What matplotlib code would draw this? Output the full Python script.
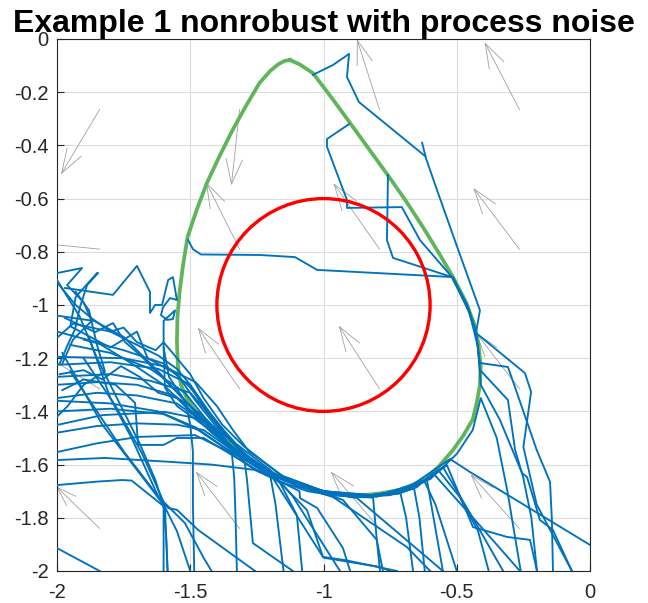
import numpy as np
import matplotlib
matplotlib.use("Agg")
import matplotlib.pyplot as plt
from matplotlib.patches import Circle

plt.rcParams['font.family'] = ['Liberation Sans', 'DejaVu Sans']
plt.rcParams['axes.unicode_minus'] = False

# quiver field (tails and vectors as drawn)
q_x = [-1.84, -1.315, -0.79, -0.265] * 4
q_y = [-0.265] * 4 + [-0.79] * 4 + [-1.315] * 4 + [-1.84] * 4
q_u = [-0.143, -0.03, -0.083, -0.128,
       -0.25, -0.124, -0.17, -0.17,
       -0.22, -0.154, -0.15, -0.16,
       -0.16, -0.161, -0.18, -0.18]
q_v = [-0.24, -0.28, 0.26, 0.248,
       0.025, 0.248, 0.244, 0.226,
       0.135, 0.226, 0.233, 0.207,
       0.155, 0.21, 0.21, 0.2]

# boundary (green) curve
bnd_x = [-1.126, -1.09, -1.04, -0.97, -0.90, -0.83, -0.76, -0.69, -0.627, -0.57, -0.514, -0.465,
         -0.435, -0.418, -0.41, -0.413, -0.425, -0.44, -0.475, -0.514, -0.57, -0.627, -0.713,
         -0.78, -0.837, -0.90, -0.96, -1.06, -1.163, -1.24, -1.313, -1.415, -1.47, -1.51,
         -1.535, -1.546, -1.55, -1.548, -1.54, -1.527, -1.51, -1.475, -1.437, -1.39, -1.34,
         -1.29, -1.24, -1.20, -1.17, -1.145, -1.126]
bnd_y = [-0.079, -0.095, -0.128, -0.22, -0.316, -0.413, -0.51, -0.61, -0.707, -0.80, -0.895, -0.99,
         -1.07, -1.15, -1.23, -1.30, -1.368, -1.43, -1.49, -1.545, -1.61, -1.66, -1.695,
         -1.707, -1.714, -1.716, -1.711, -1.688, -1.647, -1.605, -1.556, -1.47, -1.415, -1.357,
         -1.30, -1.233, -1.14, -1.045, -0.95, -0.85, -0.744, -0.64, -0.54, -0.44, -0.34,
         -0.25, -0.165, -0.12, -0.095, -0.082, -0.079]

# nominal circle
circ_center = (-1.0, -1.0)
circ_radius = 0.4

# simulated trajectories
t01 = [(-1.04, -0.135), (-0.965, -0.098), (-0.904, -0.056), (-0.912, -0.143), (-0.867, -0.237),
       (-0.619, -0.44)]
t02 = [(-0.63, -0.39), (-0.615, -0.45), (-0.574, -0.568), (-0.499, -0.78), (-0.413, -1.02),
       (-0.428, -1.105), (-0.244, -1.256), (-0.221, -1.327), (-0.25, -1.534), (-0.20, -1.75),
       (-0.068, -2.0)]
t03 = [(-0.904, -0.32), (-0.987, -0.376), (-0.987, -0.405), (-0.912, -0.605), (-0.912, -0.635),
       (-0.706, -0.632), (-0.638, -0.756), (-0.518, -0.895), (-0.46, -1.0), (-0.43, -1.09),
       (-0.413, -1.218), (-0.308, -1.233), (-0.25, -1.40), (-0.2, -1.545), (-0.15, -1.665),
       (-0.143, -1.808), (-0.139, -2.0)]
t04 = [(-0.758, -0.511), (-0.762, -0.756), (-0.739, -0.823), (-0.518, -0.895), (-0.452, -1.03),
       (-0.42, -1.16), (-0.41, -1.30), (-0.338, -1.432), (-0.255, -1.632), (-0.236, -1.647),
       (-0.188, -1.808), (-0.139, -1.846), (-0.068, -2.0)]
t05 = [(-1.508, -0.756), (-1.49, -0.79), (-1.46, -0.81), (-1.238, -0.812), (-1.107, -0.82),
       (-1.024, -0.868), (-0.514, -0.895), (-0.455, -1.02), (-0.425, -1.12), (-0.413, -1.244),
       (-0.308, -1.357), (-0.281, -1.545), (-0.251, -1.647), (-0.22, -1.8), (-0.199, -2.0)]
L01 = [(-2, -1.677), (-1.85, -1.664), (-1.756, -1.658), (-1.72, -1.66), (-1.595, -1.76),
       (-1.59, -1.88), (-1.585, -2.0)]
L02 = [(-2, -1.583), (-1.82, -1.575), (-1.57, -1.59), (-1.42, -1.60), (-1.257, -1.62),
       (-1.16, -1.665), (-1.09, -1.70), (-1.088, -1.726), (-1.024, -1.763), (-0.927, -1.914),
       (-0.9, -2.0)]
L03 = [(-2, -1.553), (-1.85, -1.52), (-1.696, -1.496), (-1.482, -1.489), (-1.36, -1.55),
       (-1.257, -1.62), (-1.16, -1.665), (-1.06, -1.70), (-0.96, -1.716), (-0.86, -1.722),
       (-0.814, -1.724), (-0.80, -1.883), (-0.788, -2.0)]
L04 = [(-2, -1.451), (-1.83, -1.414), (-1.595, -1.402), (-1.445, -1.432), (-1.36, -1.50),
       (-1.30, -1.56), (-1.20, -1.63), (-1.088, -1.744), (-1.062, -1.771), (-1.002, -1.947),
       (-0.919, -1.959), (-0.724, -2.0)]
L05 = [(-2, -1.35), (-1.85, -1.33), (-1.7, -1.34), (-1.55, -1.37), (-1.45, -1.44), (-1.38, -1.50),
       (-1.30, -1.57), (-1.2, -1.63), (-1.1, -1.68), (-1.0, -1.706), (-0.9, -1.72), (-0.8, -1.72),
       (-0.713, -1.70), (-0.69, -1.80), (-0.664, -2.0)]
L06 = [(-2, -1.27), (-1.8, -1.26), (-1.65, -1.285), (-1.5, -1.33), (-1.42, -1.42), (-1.35, -1.51),
       (-1.25, -1.60), (-1.15, -1.66), (-1.0, -1.706), (-0.85, -1.721), (-0.72, -1.71),
       (-0.65, -1.685), (-0.589, -1.632), (-0.43, -1.81), (-0.263, -2.0)]
L07 = [(-2, -1.225), (-1.8, -1.215), (-1.62, -1.24), (-1.5, -1.30), (-1.43, -1.40), (-1.36, -1.49),
       (-1.3, -1.56), (-1.2, -1.63), (-1.05, -1.69), (-0.9, -1.718), (-0.75, -1.715),
       (-0.62, -1.66), (-0.552, -1.609), (-0.44, -1.80), (-0.326, -2.0)]
L08 = [(-2, -1.195), (-1.75, -1.20), (-1.6, -1.23), (-1.48, -1.29), (-1.40, -1.38), (-1.34, -1.47),
       (-1.28, -1.55), (-1.15, -1.645), (-1.0, -1.70), (-0.85, -1.718), (-0.7, -1.70),
       (-0.6, -1.65), (-0.537, -1.602), (-0.439, -1.835), (-0.311, -1.872), (-0.225, -1.883),
       (-0.199, -2.0)]
L09 = [(-2, -1.04), (-1.86, -1.06), (-1.75, -1.12), (-1.62, -1.25), (-1.52, -1.36), (-1.44, -1.44),
       (-1.36, -1.52), (-1.25, -1.605), (-1.1, -1.675), (-0.95, -1.712), (-0.8, -1.715),
       (-0.68, -1.685), (-0.525, -1.579), (-0.45, -1.628), (0.0, -1.902)]
L10 = [(-2, -1.48), (-1.85, -1.455), (-1.7, -1.445), (-1.55, -1.45), (-1.45, -1.47), (-1.35, -1.54),
       (-1.25, -1.61), (-1.163, -1.669), (-1.10, -1.79), (-1.08, -2.0)]
L11 = [(-2, -1.30), (-1.85, -1.29), (-1.7, -1.30), (-1.56, -1.34), (-1.46, -1.41), (-1.38, -1.49),
       (-1.295, -1.594), (-1.287, -1.658), (-1.265, -1.895), (-1.115, -2.0)]
L12 = [(-1.9, -1.13), (-1.75, -1.17), (-1.6, -1.22), (-1.5, -1.31), (-1.42, -1.42), (-1.33, -1.52),
       (-1.2, -1.62), (-1.115, -1.72), (-0.938, -2.0)]
L13 = [(-2, -1.36), (-1.8, -1.37), (-1.62, -1.40), (-1.48, -1.46), (-1.38, -1.53), (-1.25, -1.61),
       (-1.1, -1.68), (-0.964, -1.722), (-0.687, -1.91), (-0.6, -2.0)]
L14 = [(-2, -1.40), (-1.8, -1.39), (-1.6, -1.41), (-1.47, -1.47), (-1.36, -1.545), (-1.22, -1.625),
       (-1.05, -1.695), (-0.874, -1.726), (-0.552, -2.0)]
L15 = [(-1.95, -1.15), (-1.8, -1.18), (-1.65, -1.24), (-1.52, -1.33), (-1.44, -1.43), (-1.36, -1.52),
       (-1.24, -1.61), (-1.1, -1.67), (-0.927, -1.733), (-0.8, -1.883), (-0.777, -2.0)]
L16 = [(-2, -1.10), (-1.85, -1.14), (-1.72, -1.22), (-1.6, -1.30), (-1.5, -1.40), (-1.42, -1.48),
       (-1.32, -1.56), (-1.2, -1.635), (-1.0, -1.95), (-0.788, -1.985), (-0.75, -2.0)]
D01 = [(-1.95, -1.25), (-1.85, -1.40), (-1.75, -1.55), (-1.65, -1.68), (-1.595, -1.76),
       (-1.55, -1.85), (-1.50, -2.0)]
D02 = [(-1.98, -1.18), (-1.83, -1.45), (-1.70, -1.62), (-1.60, -1.75), (-1.59, -1.88),
       (-1.585, -2.0)]
D03 = [(-1.90, -1.20), (-1.78, -1.38), (-1.68, -1.56), (-1.60, -1.74), (-1.52, -1.82),
       (-1.45, -1.95), (-1.42, -2.0)]
D04 = [(-1.88, -1.12), (-1.80, -1.35), (-1.72, -1.50), (-1.62, -1.72), (-1.583, -1.763),
       (-1.55, -1.77), (-1.47, -1.846), (-1.257, -2.0)]
D05 = [(-2, -0.906), (-1.914, -1.045), (-1.85, -1.20), (-1.76, -1.38), (-1.69, -1.52),
       (-1.63, -1.66), (-1.60, -1.76), (-1.60, -2.0)]
B01 = [(-2, -1.914), (-1.84, -2.0)]
Z01 = [(-2, -0.88), (-1.906, -0.861), (-1.962, -0.925), (-1.90, -0.99), (-1.87, -1.06),
       (-1.94, -1.13), (-1.98, -1.22)]
Z02 = [(-1.97, -0.936), (-1.79, -0.962), (-1.70, -0.853), (-1.651, -0.951), (-1.651, -1.03),
       (-1.632, -1.0), (-1.606, -1.0), (-1.583, -0.906), (-1.565, -0.895), (-1.55, -0.981),
       (-1.576, -0.974), (-1.602, -1.008), (-1.61, -1.038), (-1.587, -1.056), (-1.565, -1.053),
       (-1.557, -1.02), (-1.60, -1.06), (-1.60, -1.16), (-1.58, -1.27), (-1.52, -1.36),
       (-1.50, -1.45), (-1.49, -1.55), (-1.49, -1.75), (-1.485, -2.0)]
Z03 = [(-1.97, -1.049), (-1.857, -1.102), (-1.79, -1.068), (-1.745, -1.139), (-1.681, -1.195),
       (-1.595, -1.282), (-1.5, -1.38), (-1.42, -1.47), (-1.345, -1.545), (-1.335, -1.65),
       (-1.33, -1.80), (-1.325, -2.0)]
Z04 = [(-1.85, -0.88), (-1.93, -0.97), (-1.95, -1.08), (-1.80, -1.16), (-1.70, -1.10),
       (-1.66, -1.20), (-1.55, -1.26), (-1.48, -1.36), (-1.40, -1.46), (-1.30, -1.56),
       (-1.2, -1.63), (-1.0, -1.70), (-0.8, -1.717), (-0.6, -1.655), (-0.5, -1.56),
       (-0.44, -1.47), (-0.41, -1.35), (-0.35, -1.50), (-0.31, -1.7), (-0.26, -2.0)]
Z05 = [(-1.846, -0.88), (-1.887, -0.925), (-1.914, -1.008), (-1.932, -1.09), (-1.96, -1.15),
       (-1.99, -1.22)]
Z06 = [(-1.996, -0.92), (-1.93, -1.0), (-1.87, -1.05), (-1.80, -1.10), (-1.72, -1.14),
       (-1.62, -1.19), (-1.55, -1.24), (-1.50, -1.30), (-1.44, -1.40), (-1.36, -1.50),
       (-1.28, -1.57), (-1.18, -1.64), (-1.0, -1.703), (-0.85, -1.718), (-0.70, -1.698),
       (-0.63, -1.66), (-0.612, -1.658), (-0.552, -2.0)]
Z07 = [(-1.996, -1.12), (-1.94, -1.07), (-1.80, -1.10), (-1.75, -1.085), (-1.70, -1.14),
       (-1.63, -1.17), (-1.60, -1.14), (-1.55, -1.20), (-1.50, -1.26), (-1.45, -1.35),
       (-1.38, -1.45), (-1.30, -1.53), (-1.16, -1.64), (-1.0, -1.70), (-0.8, -1.716),
       (-0.65, -1.68), (-0.57, -1.62), (-0.49, -1.72), (-0.42, -1.85), (-0.38, -2.0)]
Z08 = [(-1.98, -1.32), (-1.90, -1.28), (-1.78, -1.30), (-1.707, -1.368), (-1.696, -1.526),
       (-1.60, -1.526), (-1.55, -1.50), (-1.45, -1.50), (-1.35, -1.56), (-1.25, -1.62),
       (-1.0, -1.71), (-0.8, -1.72), (-0.62, -1.665), (-0.58, -1.75), (-0.5, -2.0)]
Z09 = [(-1.93, -0.95), (-1.88, -1.02), (-1.85, -1.15), (-1.82, -1.25), (-1.90, -1.30),
       (-1.96, -1.38), (-2.0, -1.42)]
Z10 = [(-1.60, -1.16), (-1.595, -1.31), (-1.55, -1.38), (-1.48, -1.43), (-1.40, -1.49),
       (-1.32, -1.555), (-1.25, -1.60), (-1.2, -1.64), (-1.18, -1.75), (-1.15, -2.0)]
Z11 = [(-1.99, -1.26), (-1.90, -1.245), (-1.83, -1.28), (-1.76, -1.23), (-1.69, -1.27),
       (-1.62, -1.33), (-1.55, -1.35), (-1.47, -1.42), (-1.40, -1.48), (-1.34, -1.54),
       (-1.22, -1.62), (-1.08, -1.685), (-0.9, -1.72), (-0.76, -1.715), (-0.66, -1.69),
       (-0.64, -1.80), (-0.62, -2.0)]

trajs = [t01, t02, t03, t04, t05, L01, L02, L03, L04, L05, L06, L07, L08, L09, L10, L11, L12,
         L13, L14, L15, L16, D01, D02, D03, D04, D05, B01, Z01, Z02, Z03, Z04, Z05, Z06, Z07,
         Z08, Z09, Z10, Z11]

fig = plt.figure(figsize=(6.48, 6.03), dpi=100)
ax = fig.add_axes([57 / 648, 1 - 571 / 603, 533 / 648, 532 / 603])

# quiver with matlab style open heads
alpha, beta = 0.33, 0.33
for x, y, u, v in zip(q_x, q_y, q_u, q_v):
    ax.plot([x, x + u], [y, y + v], color='#a0a0a0', lw=0.6, zorder=1)
    hx = [x + u - alpha * (u + beta * v), x + u, x + u - alpha * (u - beta * v)]
    hy = [y + v - alpha * (v - beta * u), y + v, y + v - alpha * (v + beta * u)]
    ax.plot(hx, hy, color='#a0a0a0', lw=0.6, zorder=1)

ax.plot(bnd_x, bnd_y, color='#5FB55A', lw=2.7, zorder=2, solid_joinstyle='round')

for tr in trajs:
    arr = np.array(tr)
    ax.plot(arr[:, 0], arr[:, 1], color='#0072BD', lw=1.35, zorder=3)

ax.add_patch(Circle(circ_center, circ_radius, fill=False, edgecolor='#FF0000', lw=2.4, zorder=4))

ax.set_xlim(-2, 0)
ax.set_ylim(-2, 0)
ax.set_xticks([-2, -1.5, -1, -0.5, 0])
ax.set_xticklabels(['-2', '-1.5', '-1', '-0.5', '0'])
yt = [-2, -1.8, -1.6, -1.4, -1.2, -1, -0.8, -0.6, -0.4, -0.2, 0]
ax.set_yticks(yt)
ax.set_yticklabels(['-2', '-1.8', '-1.6', '-1.4', '-1.2', '-1', '-0.8', '-0.6', '-0.4', '-0.2', '0'])
ax.tick_params(direction='in', length=5, labelsize=14.5, colors='#262626', width=0.8)
ax.tick_params(axis='x', pad=9)
ax.tick_params(axis='y', pad=6)
ax.grid(True, color='#dcdcdc', lw=0.8)
ax.set_axisbelow(True)
for s in ax.spines.values():
    s.set_color('#262626')
    s.set_linewidth(0.8)
ax.set_title('Example 1 nonrobust with process noise', fontsize=23, fontweight='bold', pad=5)

fig.savefig('out.png', dpi=100)
